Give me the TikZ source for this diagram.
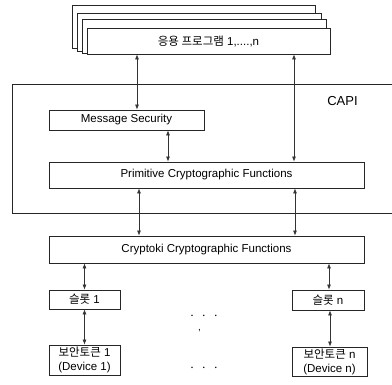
\documentclass[tikz,border=0pt]{standalone}
\usepackage{fontspec}
\setmainfont{Liberation Sans}
\newfontfamily\kr{Noto Sans CJK KR}
\usetikzlibrary{arrows.meta}
\begin{document}
\begin{tikzpicture}[x=1pt,y=-1pt,
  box/.style={draw=black!85,line width=0.8pt,fill=white,inner sep=0pt,font=\fontsize{11.5}{14}\selectfont},
  link/.style={draw=black!80,line width=0.7pt,{Latex[length=5pt,width=4pt]}-{Latex[length=5pt,width=4pt]}},
  txt/.style={font=\fontsize{11.5}{14}\selectfont,inner sep=0pt}]
\useasboundingbox[fill=white] (0,0) rectangle (392,385);
% stacked application boxes
\draw[box] (72,5) rectangle (315,48);
\draw[box] (77,13) rectangle (321,51);
\draw[box] (82,19) rectangle (326,53);
\node[box,minimum width=243pt,minimum height=26pt] (app) at (208.5,41) {{\kr 응용 프로그램} 1,....,n};
% CAPI frame (open to the right)
\draw[draw=black!85,line width=0.8pt] (392,84) -- (12,84) -- (12,213) -- (392,213);
\node[txt,font=\fontsize{13}{15}\selectfont] (capi) at (342.5,101) {CAPI};
% inner boxes
\node[box,minimum width=155pt,minimum height=20pt] (msg) at (126.5,120) {Message Security};
\node[box,minimum width=315pt,minimum height=26pt] (prim) at (206.5,175) {Primitive Cryptographic Functions};
\node[box,minimum width=315pt,minimum height=27pt] (cryp) at (206.5,249.5) {Cryptoki Cryptographic Functions};
\node[box,minimum width=71pt,minimum height=19pt] (s1) at (84.5,299.5) {{\kr 슬롯} 1};
\node[box,minimum width=72pt,minimum height=20pt] (sn) at (328,300) {{\kr 슬롯} n};
\node[box,minimum width=71pt,minimum height=30pt,align=center] (t1) at (84.5,360) {{\kr 보안토큰} 1\\(Device 1)};
\node[box,minimum width=75pt,minimum height=29pt,align=center] (tn) at (329.5,361.5) {{\kr 보안토큰} n\\(Device n)};
% dots
\node[txt,font=\fontsize{14}{16}\selectfont] (d1) at (204,316) {$\cdot\,\,\cdot\,\,\cdot$};
\node[txt,font=\fontsize{10}{10}\selectfont] (d2) at (199.5,331) {,};
\node[txt,font=\fontsize{14}{16}\selectfont] (d3) at (204,368) {$\cdot\,\,\cdot\,\,\cdot$};
% connectors
\draw[link] (app.south -| 137,0) -- (msg.north -| 137,0);
\draw[link] (app.south -| 294,0) -- (prim.north -| 294,0);
\draw[link] (msg.south -| 168,0) -- (prim.north -| 168,0);
\draw[link] (prim.south -| 139,0) -- (cryp.north -| 139,0);
\draw[link] (prim.south -| 295,0) -- (cryp.north -| 295,0);
\draw[link] (cryp.south -| s1.north) -- (s1.north);
\draw[link] (cryp.south -| 329,0) -- (sn.north -| 329,0);
\draw[link] (s1.south) -- (t1.north);
\draw[link] (sn.south -| 330,0) -- (tn.north -| 330,0);
\end{tikzpicture}
\end{document}
